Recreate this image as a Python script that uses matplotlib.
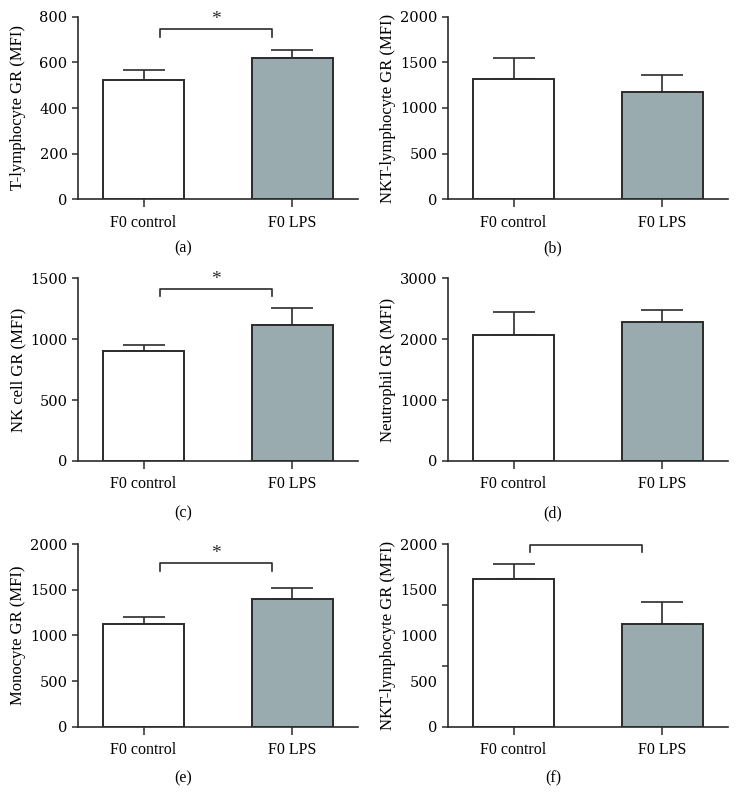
import numpy as np
import matplotlib
matplotlib.use("Agg")
import matplotlib.pyplot as plt

# ---- DATA ----
groups = ["F0 control", "F0 LPS"]
panel_tags = ["(a)", "(b)", "(c)", "(d)", "(e)", "(f)"]
ylabels = [
    "T-lymphocyte GR (MFI)",
    "NKT-lymphocyte GR (MFI)",
    "NK cell GR (MFI)",
    "Neutrophil GR (MFI)",
    "Monocyte GR (MFI)",
    "NKT-lymphocyte GR (MFI)",
]
control_mean = [523, 1314, 907, 2072, 1128, 1614]
control_err = [42, 237, 49, 384, 76, 167]
lps_mean = [620, 1175, 1118, 2280, 1395, 1124]
lps_err = [34, 190, 137, 209, 123, 244]
ymax = [800, 2000, 1500, 3000, 2000, 2000]
ystep = [200, 500, 500, 1000, 500, 500]
bracket_y = [745, None, 1415, None, 1789, 1990]
bracket_star = [True, False, True, False, True, False]

plt.rcParams["font.family"] = ["Liberation Serif", "DejaVu Serif"]

EDGE = "#2b2b2b"
GREY = "#9aabb0"

fig = plt.figure(figsize=(7.39, 8.10), dpi=100)

col_x = [78 / 739, 448 / 739]
row_b = [610.7 / 810, 349 / 810, 83.3 / 810]
w = 280 / 739
h = 182.6 / 810
tag_y = [1 - 248 / 810, 1 - 513 / 810, 1 - 778 / 810]
tag_x = [183 / 739, 553 / 739]

for i in range(6):
    r, c = divmod(i, 2)
    ax = fig.add_axes([col_x[c], row_b[r], w, h])
    x = np.arange(2)
    means = [control_mean[i], lps_mean[i]]
    errs = [control_err[i], lps_err[i]]

    ax.bar(x, means, width=0.548, color=["white", GREY],
           edgecolor=EDGE, linewidth=1.4, zorder=3)
    ax.errorbar(x, means, yerr=[[0, 0], errs], fmt="none", ecolor=EDGE,
                elinewidth=1.2, capsize=15, capthick=1.2, zorder=2)

    ax.set_xlim(-0.44, 1.44)
    ax.set_ylim(0, ymax[i])
    ax.set_xticks(x)
    ax.set_xticklabels(groups, fontsize=11.5)
    ax.set_yticks(np.arange(0, ymax[i] + 1, ystep[i]))
    ax.tick_params(axis="y", labelsize=10.5, length=4, width=1.1, color=EDGE)
    for lab in ax.get_yticklabels():
        lab.set_fontfamily("DejaVu Serif")
    ax.tick_params(axis="x", length=6, width=1.1, color=EDGE, pad=5)
    for s in ["top", "right"]:
        ax.spines[s].set_visible(False)
    for s in ["left", "bottom"]:
        ax.spines[s].set_linewidth(1.2)
        ax.spines[s].set_color(EDGE)

    ax.set_ylabel(ylabels[i], fontsize=12)
    ax.yaxis.set_label_coords(-0.185, 0.5)

    # ---- ODD TICKS IN PANEL (f) ----
    if i == 5:
        yt = ax.yaxis.get_major_ticks()
        for t in yt[1:-1]:
            t.tick1line.set_visible(False)
        ax.set_yticks([ymax[i] / 3, 2 * ymax[i] / 3], minor=True)
        ax.tick_params(axis="y", which="minor", length=4, width=1.1, color=EDGE)

    # ---- SIGNIFICANCE BRACKET ----
    if bracket_y[i] is not None:
        by = bracket_y[i]
        drop = 0.04 * ymax[i]
        ax.plot([0.11, 0.11, 0.86, 0.86], [by - drop, by, by, by - drop],
                color=EDGE, linewidth=1.2, clip_on=False)
        if bracket_star[i]:
            ax.text(0.485, by + 0.005 * ymax[i], "*", ha="center", va="bottom",
                    fontsize=14, color=EDGE)

    fig.text(tag_x[c], tag_y[r], panel_tags[i], ha="center", va="center",
             fontsize=11.5)

fig.savefig("out.png", dpi=100)
